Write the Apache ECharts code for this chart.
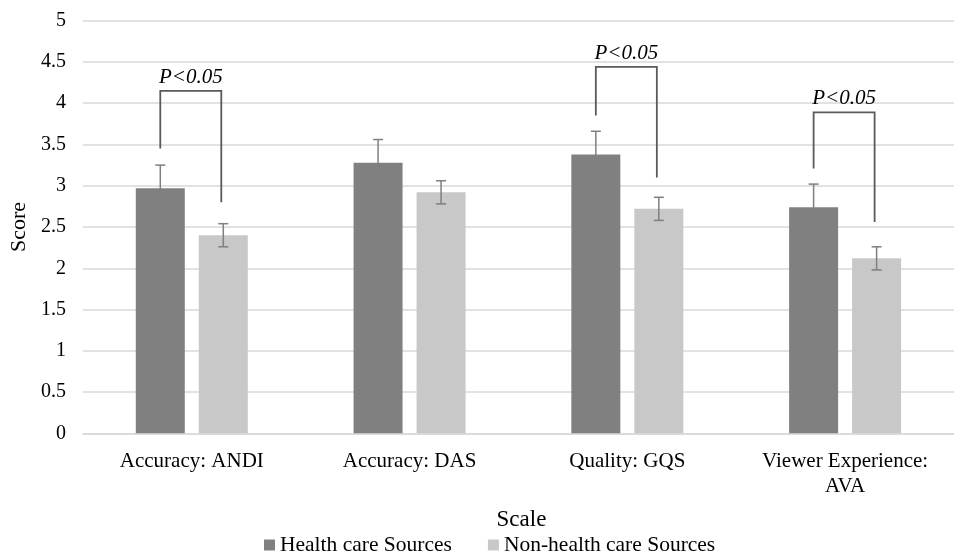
<!DOCTYPE html>
<html>
<head>
<meta charset="utf-8">
<script src="https://cdn.jsdelivr.net/npm/echarts@6/dist/echarts.min.js"></script>
<style>html,body{margin:0;padding:0;background:#fff}#c{width:954px;height:551px}</style>
</head>
<body>
<div id="c"></div>
<script>
const categories = ['Accuracy: ANDI', 'Accuracy: DAS', 'Quality: GQS', 'Viewer Experience:\nAVA'];
const healthValues = [2.97, 3.28, 3.38, 2.74];
const healthErrors = [0.28, 0.28, 0.28, 0.28];
const nonHealthValues = [2.40, 2.92, 2.72, 2.12];
const nonHealthErrors = [0.14, 0.14, 0.14, 0.14];
// significance brackets: [category index, top level, left leg end, right leg end]
const bracketCats = [0, 2, 3];
const bracketTop = [4.15, 4.44, 3.89];
const bracketLeftEnd = [3.45, 3.85, 3.21];
const bracketRightEnd = [2.80, 3.10, 2.56];
const bracketLabel = 'P<0.05';
const yTicks = { min: 0, max: 5, interval: 0.5 };

const FONT = "'Liberation Serif', 'Times New Roman', serif";
const BAR_W = 49, BAR_GAP = 14;
const OFF = (BAR_W + BAR_GAP) / 2;

function errRender(side) {
  return function (params, api) {
    const cat = api.value(0), v = api.value(1), e = api.value(2);
    const top = api.coord([cat, v + e]);
    const bot = api.coord([cat, v - e]);
    const x = top[0] + side * OFF;
    const st = { stroke: '#7f7f7f', lineWidth: 1.5 };
    return {
      type: 'group',
      children: [
        { type: 'line', shape: { x1: x, y1: top[1], x2: x, y2: bot[1] }, style: st },
        { type: 'line', shape: { x1: x - 5, y1: top[1], x2: x + 5, y2: top[1] }, style: st },
        { type: 'line', shape: { x1: x - 5, y1: bot[1], x2: x + 5, y2: bot[1] }, style: st }
      ]
    };
  };
}

const bracketData = bracketCats.map((c, i) => [c, bracketTop[i], bracketLeftEnd[i], bracketRightEnd[i]]);

const chart = echarts.init(document.getElementById('c'), null, { renderer: 'canvas' });
chart.setOption({
  animation: false,
  textStyle: { fontFamily: FONT, color: '#000' },
  grid: { left: 80, top: 20.7, width: 883, height: 412.6, containLabel: false },
  legend: {
    data: ['Health care Sources', 'Non-health care Sources'],
    left: 259, top: 529, itemWidth: 11, itemHeight: 11, itemGap: 36, icon: 'rect',
    textStyle: { fontFamily: FONT, fontSize: 21.5, color: '#000' }
  },
  xAxis: {
    type: 'category', data: categories,
    name: 'Scale', nameLocation: 'middle', nameGap: 75,
    nameTextStyle: { fontFamily: FONT, fontSize: 23, color: '#000', padding: [0, 0, 0, 6] },
    axisLine: { show: true, lineStyle: { color: '#d9d9d9', width: 1.5 } },
    axisTick: { show: false },
    axisLabel: { fontFamily: FONT, fontSize: 21, color: '#000', margin: 16, lineHeight: 25 }
  },
  yAxis: {
    type: 'value', min: yTicks.min, max: yTicks.max, interval: yTicks.interval,
    name: 'Score', nameLocation: 'middle', nameGap: 48,
    nameTextStyle: { fontFamily: FONT, fontSize: 22, color: '#000' },
    axisLine: { show: false }, axisTick: { show: false },
    axisLabel: { fontFamily: FONT, fontSize: 20, color: '#000', margin: 17 },
    splitLine: { lineStyle: { color: '#d9d9d9', width: 1.5 } }
  },
  series: [
    { name: 'Health care Sources', type: 'bar', data: healthValues, barWidth: BAR_W, barGap: (BAR_GAP / BAR_W * 100) + '%',
      itemStyle: { color: '#808080' } },
    { name: 'Non-health care Sources', type: 'bar', data: nonHealthValues, barWidth: BAR_W,
      itemStyle: { color: '#c8c8c8' } },
    { type: 'custom', z: 5, renderItem: errRender(-1),
      data: healthValues.map((v, i) => [i, v, healthErrors[i]]), encode: { x: 0, y: 1 } },
    { type: 'custom', z: 5, renderItem: errRender(1),
      data: nonHealthValues.map((v, i) => [i, v, nonHealthErrors[i]]), encode: { x: 0, y: 1 } },
    { type: 'custom', z: 6,
      data: bracketData, encode: { x: 0, y: 1 },
      renderItem: function (params, api) {
        const cat = api.value(0);
        const t = api.coord([cat, api.value(1)]);
        const l = api.coord([cat, api.value(2)]);
        const r = api.coord([cat, api.value(3)]);
        const xl = t[0] - OFF, xr = t[0] + OFF - 2;
        return {
          type: 'group',
          children: [
            { type: 'polyline', shape: { points: [[xl, l[1]], [xl, t[1]], [xr, t[1]], [xr, r[1]]] },
              style: { stroke: '#5a5a5a', lineWidth: 1.8, fill: null } },
            { type: 'text', style: { text: bracketLabel, x: (xl + xr) / 2, y: t[1] - 3,
              textAlign: 'center', textVerticalAlign: 'bottom',
              font: 'italic 21px ' + FONT, fill: '#000' } }
          ]
        };
      }
    }
  ]
});
</script>
</body>
</html>
